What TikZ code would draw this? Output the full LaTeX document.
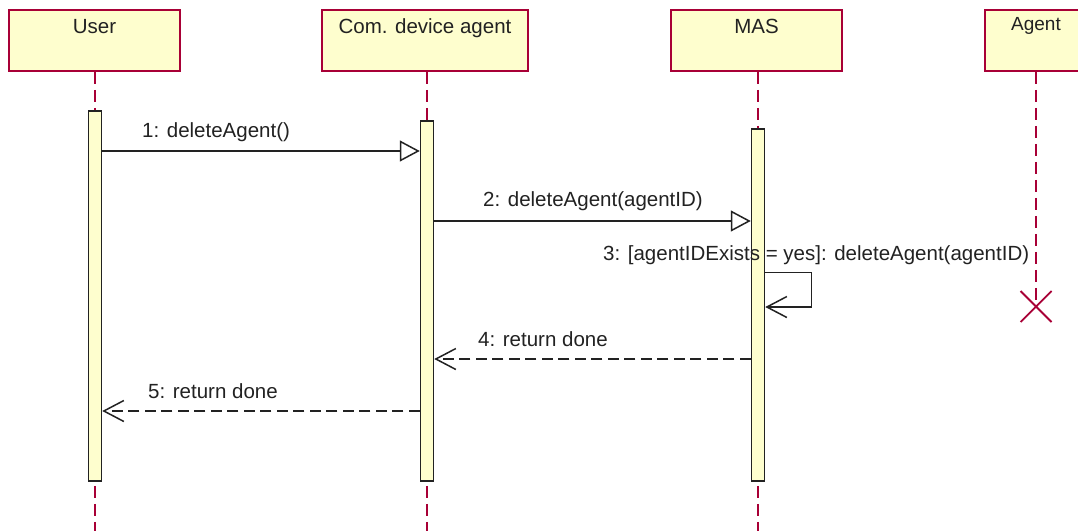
\documentclass[tikz,border=0pt]{standalone}
\usepackage{fontspec}
\setmainfont{Liberation Sans}
\usetikzlibrary{arrows.meta,calc,backgrounds}
\definecolor{umlfill}{RGB}{254,254,206}
\definecolor{umlline}{RGB}{168,0,54}
\definecolor{ink}{RGB}{34,34,34}
\begin{document}
\begin{tikzpicture}[x=1pt,y=-1pt,
  every node/.style={font=\fontsize{20.5}{24}\selectfont, text=ink},
  actor/.style={draw=umlline, fill=umlfill, line width=1.6pt, inner sep=0pt,
                text height=23.3pt, text depth=37.7pt},
  lifeline/.style={draw=umlline, line width=1.6pt, dash pattern=on 12pt off 6pt},
  bar/.style={draw=ink, fill=umlfill, line width=1.5pt, minimum width=13pt, inner sep=0pt},
  call/.style={draw=ink, line width=1.5pt, -{Triangle[length=20pt,width=21pt,fill=white]}},
  reply/.style={draw=ink, line width=1.5pt, dash pattern=on 11pt off 5.5pt,
                -{Straight Barb[length=20pt,width=21pt]}},
  selfcall/.style={draw=ink, line width=1.5pt, -{Straight Barb[length=20pt,width=21pt]}},
  msg/.style={anchor=base west, inner sep=0pt},
  destroy/.style={draw=umlline, line width=1.8pt}
]
\path[use as bounding box] (0,0) rectangle (1078,531);
\clip (0,0) rectangle (1078,531);

% participants
\node[actor, minimum width=171pt] (user)  at (94.5,40.5)  {User};
\node[actor, minimum width=206pt] (com)   at (425,40.5)   {Com. device agent};
\node[actor, minimum width=171pt] (mas)   at (756.5,40.5) {MAS};
\node[actor, minimum width=102pt, text height=20.5pt, text depth=40.5pt,
      font=\fontsize{19}{23}\selectfont] (agent) at (1036,40.5) {Agent};

% message rows
\coordinate (bottom) at (0,531);
\coordinate (r1)  at (0,151);
\coordinate (r2)  at (0,221);
\coordinate (r3a) at (0,272.5);
\coordinate (r3b) at (0,307);
\coordinate (r4)  at (0,359);
\coordinate (r5)  at (0,411);
\coordinate (xend) at (1036,306.5);

% activation bars
\node[bar, minimum height=370pt] (userbar) at (95,296) {};
\node[bar, minimum height=360pt] (combar)  at (427,301) {};
\node[bar, minimum height=352pt] (masbar)  at (758,305) {};

% white sheet and lifelines behind the bars
\begin{scope}[on background layer]
  \fill[white] (0,0) rectangle (1078,531);
  \draw[lifeline] (userbar.center |- user.south) -- (userbar.center |- bottom);
  \draw[lifeline] (combar.center |- com.south) -- (combar.center |- bottom);
  \draw[lifeline] (masbar.center |- mas.south) -- (masbar.center |- bottom);
  \draw[lifeline] (agent.south) -- (xend);
\end{scope}

% messages
\draw[call]  (userbar.east |- r1) -- (combar.west |- r1);
\draw[call]  (combar.east |- r2) -- (masbar.west |- r2);
\draw[selfcall] (masbar.east |- r3a) -- ++(46,0) -- ++(0,34.5) -- (masbar.east |- r3b);
\draw[reply] (masbar.west |- r4) -- (combar.east |- r4);
\draw[reply] (combar.west |- r5) -- (userbar.east |- r5);

% destruction of the agent
\draw[destroy] ($(xend)+(-15.5,-15.5)$) -- ($(xend)+(15.5,15.5)$)
               ($(xend)+(-15.5,15.5)$) -- ($(xend)+(15.5,-15.5)$);

% message labels
\node[msg] (l1) at (142,137.5) {1: deleteAgent()};
\node[msg] (l2) at (483,206.5) {2: deleteAgent(agentID)};
\node[msg] (l3) at (603,260)   {3: [agentIDExists = yes]: deleteAgent(agentID)};
\node[msg] (l4) at (478,346)   {4: return done};
\node[msg] (l5) at (148,398)   {5: return done};
\end{tikzpicture}
\end{document}
